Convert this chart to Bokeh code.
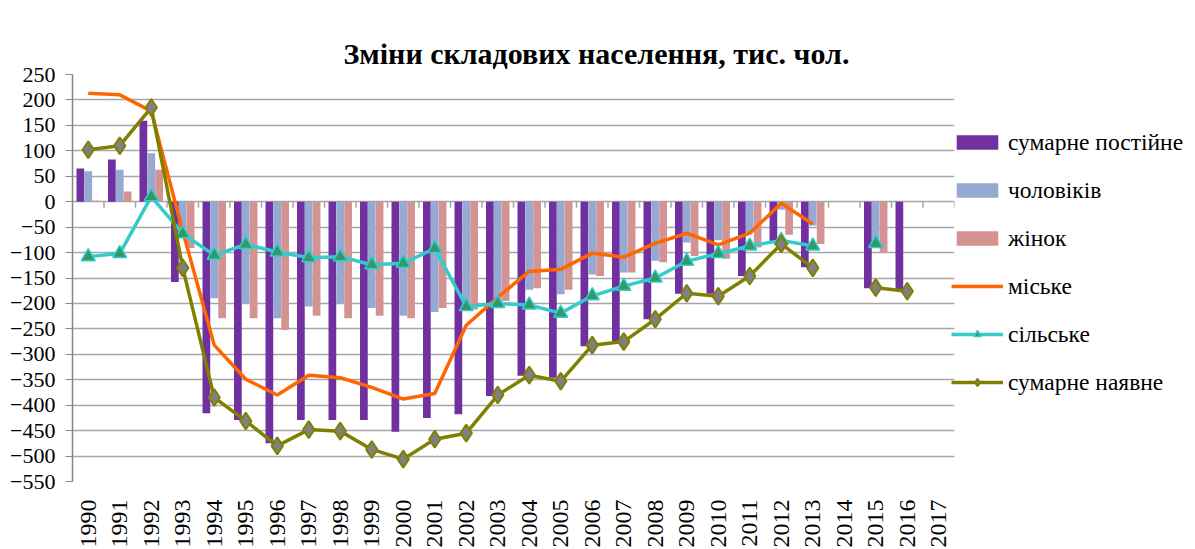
import math
from bokeh.plotting import figure
from bokeh.models import Range1d, FactorRange, FixedTicker, Legend, LegendItem, ColumnDataSource
from bokeh.transform import dodge
from bokeh.embed import file_html
from bokeh.resources import INLINE

nan = float("nan")

years = [str(y) for y in range(1990, 2018)]
y_ticks = list(range(-550, 251, 50))

total_perm = [65, 83, 159, -158, -416, -429, -475, -429, -429, -429,
              -452, -425, -418, -382, -342, -346, -284, -274, -231, -181,
              -181, -146, -78, -129, nan, -170, -173, nan]
male = [60, 63, 95, -65, -190, -201, -229, -206, -201, -209,
        -224, -217, -205, -195, -173, -182, -143, -139, -116, -80,
        -76, -60, -16, -47, nan, -75, nan, nan]
female = [2, 20, 63, -91, -229, -229, -252, -224, -229, -224,
          -229, -209, -212, -195, -170, -173, -146, -139, -119, -107,
          -112, -90, -65, -83, nan, -101, nan, nan]
urban = [213, 210, 178, -58, -282, -349, -380, -341, -346, -365,
         -388, -377, -243, -188, -137, -133, -101, -109, -82, -62,
         -85, -62, -3, -44, nan, nan, nan, nan]
rural = [-108, -102, 10, -63, -105, -84, -99, -110, -108, -124,
         -121, -92, -206, -200, -203, -219, -185, -166, -150, -117,
         -102, -87, -76, -87, nan, -82, nan, nan]
present = [102, 110, 185, -130, -385, -431, -480, -448, -451, -487,
           -506, -467, -455, -380, -341, -353, -282, -275, -231, -180,
           -186, -146, -83, -130, nan, -169, -176, nan]

labels = ["сумарне постійне", "чоловіків", "жінок", "міське", "сільське", "сумарне наявне"]

FONT = "Liberation Serif"
GRID = "#A6A6A6"

src = ColumnDataSource(dict(x=years, total=total_perm, male=male, female=female,
                            urban=urban, rural=rural, present=present,
                            zero=[0] * len(years), tick=[-12] * len(years)))

p = figure(x_range=FactorRange(*years), y_range=Range1d(-550, 250),
           frame_width=882, frame_height=407, output_backend="svg", toolbar_location=None,
           min_border_left=72, min_border_right=0, min_border_top=74, min_border_bottom=58)

p.title.text = "Зміни складових населення, тис. чол."
p.title.text_font = FONT
p.title.text_font_size = "30px"
p.title.text_font_style = "bold"
p.title.text_color = "black"
p.title.align = "left"
p.title.offset = 271
p.title.standoff = 10

bw = 0.245
r_tot = p.vbar(x=dodge("x", -0.25, range=p.x_range), top="total", width=bw, source=src,
               fill_color="#7030A0", line_color=None)
r_male = p.vbar(x=dodge("x", 0.0, range=p.x_range), top="male", width=bw, source=src,
                fill_color="#95A9D2", line_color=None)
r_fem = p.vbar(x=dodge("x", 0.25, range=p.x_range), top="female", width=bw, source=src,
               fill_color="#D49393", line_color=None)

# small tick marks on the zero line between categories
p.segment(x0=dodge("x", 0.5, range=p.x_range), y0="zero", x1=dodge("x", 0.5, range=p.x_range),
          y1="tick", source=src, line_color=GRID, line_width=1.5)

r_urb = p.line("x", "urban", source=src, line_color="#FF6600", line_width=3.5)
r_rur = p.line("x", "rural", source=src, line_color="#33CCCC", line_width=3.5)
r_rur_m = p.scatter("x", "rural", source=src, marker="triangle", size=14,
                    fill_color="#339966", line_color="#33CCCC", line_width=1.5)
r_pre = p.line("x", "present", source=src, line_color="#808000", line_width=3.5)
r_pre_m = p.scatter("x", "present", source=src, marker="diamond", size=17,
                    fill_color="#808080", line_color="#808000", line_width=2)

p.yaxis.ticker = FixedTicker(ticks=y_ticks)
p.yaxis.major_label_text_font = FONT
p.yaxis.major_label_text_font_size = "22px"
p.yaxis.major_label_text_color = "black"
p.yaxis.axis_line_color = "#868686"
p.yaxis.axis_line_width = 1.5
p.yaxis.major_tick_line_color = "#868686"
p.yaxis.major_tick_out = 7
p.yaxis.major_tick_in = 0
p.yaxis.minor_tick_line_color = None
p.yaxis.major_label_standoff = 10

p.xaxis.axis_line_color = None
p.xaxis.major_tick_line_color = None
p.xaxis.major_label_orientation = math.pi / 2
p.xaxis.major_label_text_font = FONT
p.xaxis.major_label_text_font_size = "24px"
p.xaxis.major_label_text_color = "black"
p.xaxis.major_label_standoff = 12

p.xgrid.grid_line_color = None
p.ygrid.ticker = FixedTicker(ticks=y_ticks)
p.ygrid.grid_line_color = GRID
p.ygrid.grid_line_width = 1.5
p.outline_line_color = None

legend = Legend(items=[
    LegendItem(label=labels[0], renderers=[r_tot]),
    LegendItem(label=labels[1], renderers=[r_male]),
    LegendItem(label=labels[2], renderers=[r_fem]),
    LegendItem(label=labels[3], renderers=[r_urb]),
    LegendItem(label=labels[4], renderers=[r_rur, r_rur_m]),
    LegendItem(label=labels[5], renderers=[r_pre, r_pre_m]),
], location=(-3, 82))
legend.glyph_width = 52
legend.glyph_height = 18
legend.label_height = 34
legend.spacing = 14
legend.padding = 0
legend.margin = 0
legend.label_standoff = 5
legend.label_text_font = FONT
legend.label_text_font_size = "23.5px"
legend.label_text_color = "black"
legend.border_line_color = None
legend.background_fill_alpha = 0
p.add_layout(legend, "right")

open("out.html", "w").write(file_html(p, INLINE))
